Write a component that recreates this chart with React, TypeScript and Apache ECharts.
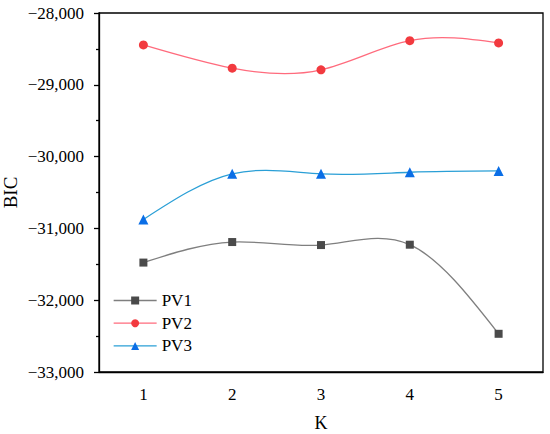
import React, { useEffect, useRef } from "react";
import * as echarts from "echarts";

const kValues = ["1", "2", "3", "4", "5"];
const pv1 = [-31476, -31190, -31232, -31227, -32468];
const pv2 = [-28444, -28768, -28792, -28385, -28417];
const pv3 = [-30875, -30240, -30240, -30218, -30199];

const FONT = "'Liberation Serif', 'Times New Roman', serif";

const fmt = (v: number) =>
  (v < 0 ? "\u2212" : "") + Math.abs(v).toLocaleString("en-US");

// natural cubic spline through pixel points (x increasing), returned as SVG path
function splinePath(pts: number[][]): string {
  const n = pts.length;
  const xs = pts.map((p) => p[0]);
  const ys = pts.map((p) => p[1]);
  const h: number[] = [];
  for (let i = 0; i < n - 1; i++) h.push(xs[i + 1] - xs[i]);
  const M = new Array(n).fill(0);
  if (n > 2) {
    const a: number[] = [], b: number[] = [], c: number[] = [], d: number[] = [];
    for (let i = 1; i < n - 1; i++) {
      a.push(h[i - 1]);
      b.push(2 * (h[i - 1] + h[i]));
      c.push(h[i]);
      d.push(6 * ((ys[i + 1] - ys[i]) / h[i] - (ys[i] - ys[i - 1]) / h[i - 1]));
    }
    const m = b.length;
    for (let i = 1; i < m; i++) {
      const w = a[i] / b[i - 1];
      b[i] -= w * c[i - 1];
      d[i] -= w * d[i - 1];
    }
    const sol = new Array(m).fill(0);
    sol[m - 1] = d[m - 1] / b[m - 1];
    for (let i = m - 2; i >= 0; i--) sol[i] = (d[i] - c[i] * sol[i + 1]) / b[i];
    for (let i = 0; i < m; i++) M[i + 1] = sol[i];
  }
  let path = `M${xs[0]},${ys[0]}`;
  for (let i = 0; i < n - 1; i++) {
    const hi = h[i];
    const s = (ys[i + 1] - ys[i]) / hi;
    const d0 = s - (hi * (2 * M[i] + M[i + 1])) / 6;
    const d1 = s + (hi * (M[i] + 2 * M[i + 1])) / 6;
    const c1x = xs[i] + hi / 3, c1y = ys[i] + (d0 * hi) / 3;
    const c2x = xs[i + 1] - hi / 3, c2y = ys[i + 1] - (d1 * hi) / 3;
    path += ` C${c1x},${c1y} ${c2x},${c2y} ${xs[i + 1]},${ys[i + 1]}`;
  }
  return path;
}

const curveSeries = (values: number[], color: string) => ({
  type: "custom",
  coordinateSystem: "cartesian2d",
  xAxisIndex: 0,
  yAxisIndex: 0,
  silent: true,
  z: 1,
  data: [[0, values[0]]],
  renderItem: (_params: any, api: any) => {
    const pts = values.map((v, i) => api.coord([i, v]));
    return {
      type: "path",
      shape: { pathData: splinePath(pts) },
      style: { stroke: color, fill: "none", lineWidth: 1.3 },
    };
  },
});

export default function App() {
  const ref = useRef<HTMLDivElement>(null);
  useEffect(() => {
    if (!ref.current) return;
    const chart = echarts.init(ref.current, null, { renderer: "svg" });
    const lineCol = ["#7f7f7f", "#ff6b7d", "#2a9fd6"];
    chart.setOption({
      animation: false,
      backgroundColor: "#ffffff",
      grid: {
        left: 99,
        right: 7,
        top: 13,
        bottom: 62,
        outerBoundsMode: "none",
        containLabel: false,
        show: true,
        borderColor: "#000",
        borderWidth: 1.3,
        backgroundColor: "transparent",
      },
      legend: {
        orient: "vertical",
        left: 108,
        top: 287,
        itemWidth: 43,
        itemHeight: 10,
        itemGap: 5.7,
        textStyle: { fontFamily: FONT, fontSize: 17, color: "#000" },
        data: [
          { name: "PV1", lineStyle: { color: lineCol[0], opacity: 1, width: 1.3 } },
          { name: "PV2", lineStyle: { color: lineCol[1], opacity: 1, width: 1.3 } },
          { name: "PV3", lineStyle: { color: lineCol[2], opacity: 1, width: 1.3 } },
        ],
      },
      xAxis: [
        {
          type: "category",
          data: kValues,
          boundaryGap: true,
          name: "K",
          nameLocation: "middle",
          nameGap: 42,
          nameMoveOverlap: false,
          nameTextStyle: { fontFamily: FONT, fontSize: 18, color: "#000", lineHeight: 18 },
          axisLine: { lineStyle: { color: "#000", width: 1.3 } },
          axisTick: {
            alignWithLabel: true,
            length: 5,
            lineStyle: { color: "#000", width: 1.3 },
          },
          axisLabel: {
            fontFamily: FONT,
            fontSize: 17,
            color: "#000",
            margin: 14,
          },
          splitLine: { show: false },
        },
        {
          type: "category",
          data: kValues,
          boundaryGap: true,
          position: "bottom",
          axisLine: { show: false },
          axisTick: {
            length: 3,
            lineStyle: { color: "#000", width: 1.3 },
          },
          axisLabel: { show: false },
          splitLine: { show: false },
        },
      ],
      yAxis: {
        type: "value",
        min: -33000,
        max: -28000,
        interval: 1000,
        name: "BIC",
        nameLocation: "middle",
        nameGap: 79,
        nameMoveOverlap: false,
        nameTextStyle: { fontFamily: FONT, fontSize: 19, color: "#000", lineHeight: 19 },
        axisLine: { show: true, lineStyle: { color: "#000", width: 1.3 } },
        axisTick: {
          show: true,
          length: 5,
          lineStyle: { color: "#000", width: 1.3 },
        },
        minorTick: {
          show: true,
          splitNumber: 2,
          length: 3,
          lineStyle: { color: "#000", width: 1.3 },
        },
        axisLabel: {
          fontFamily: FONT,
          fontSize: 17,
          color: "#000",
          margin: 15,
          formatter: (v: number) => fmt(v),
        },
        splitLine: { show: false },
        minorSplitLine: { show: false },
      },
      series: [
        curveSeries(pv1, lineCol[0]),
        curveSeries(pv2, lineCol[1]),
        curveSeries(pv3, lineCol[2]),
        {
          name: "PV1",
          type: "line",
          data: pv1,
          z: 3,
          symbol: "rect",
          symbolSize: 8,
          itemStyle: { color: "#4a4a4a" },
          lineStyle: { color: lineCol[0], width: 1.3, opacity: 0 },
        },
        {
          name: "PV2",
          type: "line",
          data: pv2,
          z: 3,
          symbol: "circle",
          symbolSize: 9,
          itemStyle: { color: "#f23a3f" },
          lineStyle: { color: lineCol[1], width: 1.3, opacity: 0 },
        },
        {
          name: "PV3",
          type: "line",
          data: pv3,
          z: 3,
          symbol: "triangle",
          symbolSize: 10,
          itemStyle: { color: "#0a6ee6" },
          lineStyle: { color: lineCol[2], width: 1.3, opacity: 0 },
        },
      ],
    });
    return () => chart.dispose();
  }, []);
  return (
    <div
      ref={ref}
      style={{ position: "fixed", left: 0, top: 0, width: 550, height: 434 }}
    />
  );
}
